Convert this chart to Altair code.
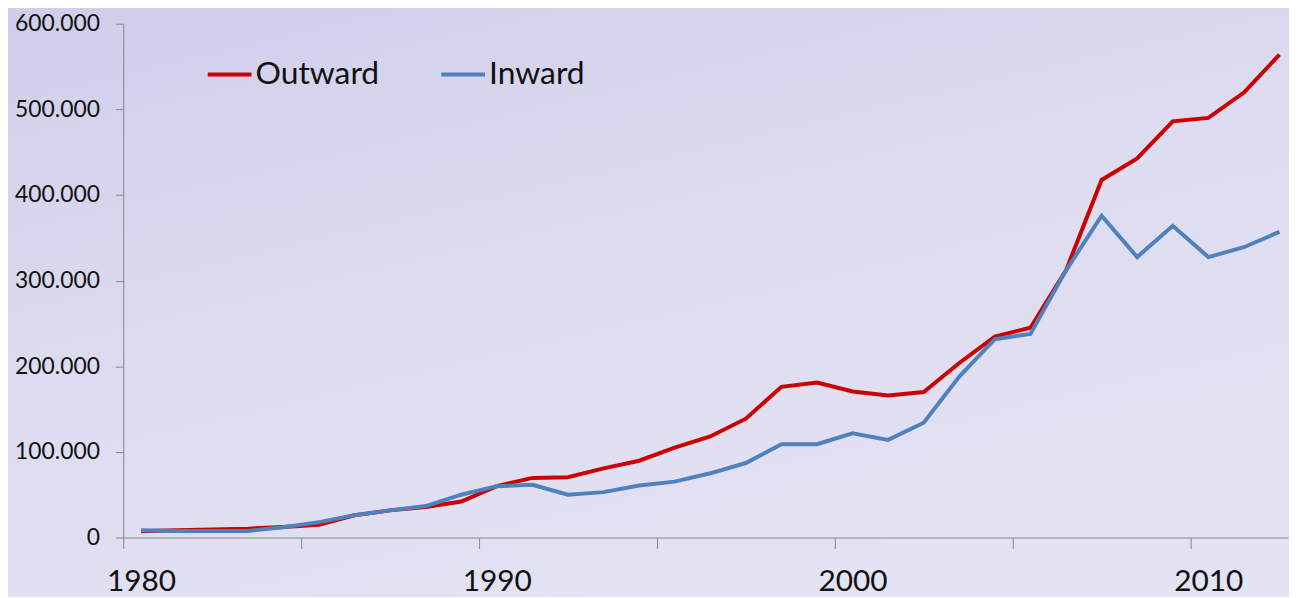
import altair as alt
import pandas as pd

# ---- data ----
years = list(range(1980, 2013))
outward = [7300, 8500, 9500, 10400, 12400, 15000, 26000, 31700, 35600, 42000,
           60000, 69600, 70400, 80800, 89700, 105000, 118000, 138800, 176000, 181000,
           170500, 166000, 170000, 203800, 234700, 245000, 312000, 417600, 442700, 486000,
           490000, 519700, 564000]
inward = [8500, 7700, 7700, 7700, 12000, 18000, 26000, 31700, 36800, 50000,
          60000, 61500, 50000, 53000, 60700, 65300, 75000, 87000, 109000, 109000,
          121800, 114000, 134000, 188000, 231600, 237800, 312000, 375800, 327500, 364000,
          327500, 339000, 357000]
series_names = ["Outward", "Inward"]
series_colors = ["#cc0000", "#4f81bd"]
y_ticks = [0, 100000, 200000, 300000, 400000, 500000, 600000]
x_tick_marks = [1979.5, 1984.5, 1989.5, 1994.5, 1999.5, 2004.5, 2009.5]
x_labels = [1980, 1990, 2000, 2010]

df = pd.DataFrame({
    "year": years + years,
    "value": outward + inward,
    "series": [series_names[0]] * len(years) + [series_names[1]] * len(years),
})

W, H = 1172, 517
GREY = "#868686"

x_axis = alt.Axis(
    values=sorted(x_tick_marks + x_labels), title=None, grid=False, zindex=1,
    domainColor=GREY, domainWidth=1, tickColor=GREY, tickWidth=1, tickSize=11,
    tickOpacity={"condition": {"test": "datum.value % 1 != 0", "value": 1}, "value": 0},
    labelExpr="datum.value % 10 == 0 ? toString(datum.value) : ''",
    labelFont="Lato", labelFontSize=30, labelColor="#111111", labelPadding=18,
    labelOverlap=False, labelBound=False, labelFlush=False,
)
y_axis = alt.Axis(
    values=y_ticks, title=None, grid=False, zindex=1,
    domainColor=GREY, domainWidth=1, tickColor=GREY, tickWidth=1, tickSize=8,
    labelExpr="replace(format(datum.value, ','), ',', '.')",
    labelFont="Lato", labelFontSize=23, labelColor="#111111", labelPadding=16,
)
legend = alt.Legend(
    title=None, orient="none", legendX=83, legendY=27, direction="horizontal",
    symbolType="stroke", symbolSize=1936, symbolStrokeWidth=4,
    labelFont="Lato", labelFontSize=32, labelColor="#111111", labelOffset=2,
    columnPadding=54, padding=0, zindex=1,
)

bg = alt.Chart(pd.DataFrame({"k": [0]})).mark_rect(
    color=alt.Gradient(
        gradient="linear", x1=0, y1=0, x2=0.5, y2=1,
        stops=[
            alt.GradientStop(color="#d0cdea", offset=0),
            alt.GradientStop(color="#dddbf0", offset=0.5),
            alt.GradientStop(color="#e3e3f3", offset=1),
        ],
    )
).encode(x=alt.value(-120), x2=alt.value(W + 20), y=alt.value(-20), y2=alt.value(H + 80))

lines = alt.Chart(df).mark_line(strokeWidth=4).encode(
    x=alt.X("year:Q", scale=alt.Scale(domain=[1979.5, 2012.24], nice=False, zero=False), axis=x_axis),
    y=alt.Y("value:Q", scale=alt.Scale(domain=[0, 600000], nice=False), axis=y_axis),
    color=alt.Color("series:N", scale=alt.Scale(domain=series_names, range=series_colors),
                    legend=legend, sort=series_names),
    detail="series:N",
)

chart = alt.layer(bg, lines).properties(
    width=W, height=H,
    padding={"left": 116, "top": 14, "right": 1, "bottom": 58},
    autosize=alt.AutoSizeParams(type="none"),
).configure_view(strokeWidth=0).configure(background="#dedcf0")

chart.save("out.html", embed_options={"renderer": "svg", "actions": False})
